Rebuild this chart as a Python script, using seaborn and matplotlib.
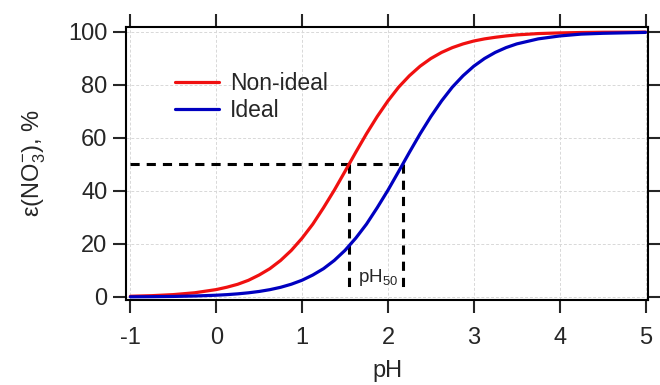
import numpy as np
import pandas as pd
import matplotlib
matplotlib.use("Agg")
import matplotlib.pyplot as plt
import seaborn as sns

# values (pH vs epsilon(NO3-), %)
ph = [-1.0, -0.75, -0.5, -0.25, 0.0, 0.125, 0.25, 0.375, 0.5, 0.625, 0.75, 0.875,
      1.0, 1.125, 1.25, 1.375, 1.5, 1.625, 1.75, 1.875, 2.0, 2.125, 2.25, 2.375,
      2.5, 2.625, 2.75, 2.875, 3.0, 3.125, 3.25, 3.375, 3.5, 3.75, 4.0, 4.25, 4.5, 5.0]
non_ideal = [0.28, 0.5, 0.9, 1.6, 2.8, 3.7, 4.8, 6.3, 8.3, 10.7, 13.8, 17.6,
             22.2, 27.5, 33.7, 40.3, 47.4, 54.6, 61.6, 68.1, 74.0, 79.2, 83.5, 87.1,
             90.0, 92.3, 94.1, 95.5, 96.6, 97.4, 98.0, 98.5, 98.9, 99.4, 99.65, 99.8, 99.9, 99.96]
ideal = [0.07, 0.12, 0.21, 0.38, 0.67, 0.89, 1.19, 1.58, 2.09, 2.77, 3.66, 4.83,
         6.33, 8.3, 10.7, 13.8, 17.6, 22.2, 27.5, 33.7, 40.3, 47.4, 54.6, 61.6,
         68.1, 74.0, 79.2, 83.5, 87.1, 90.0, 92.3, 94.1, 95.5, 97.4, 98.5, 99.2, 99.5, 99.85]

ph50 = [1.545, 2.17]
x_ticks = [-1, 0, 1, 2, 3, 4, 5]
y_ticks = [0, 20, 40, 60, 80, 100]

df = pd.concat([
    pd.DataFrame({'pH': ph, 'eps': non_ideal, 'case': 'Non-ideal'}),
    pd.DataFrame({'pH': ph, 'eps': ideal, 'case': 'Ideal'}),
])

sns.set_style("white")
plt.rcParams['font.family'] = ['Liberation Sans', 'DejaVu Sans']
plt.rcParams['mathtext.fontset'] = 'custom'
plt.rcParams['mathtext.rm'] = 'Liberation Sans'
plt.rcParams['mathtext.it'] = 'Liberation Sans:italic'

fig = plt.figure(figsize=(6.6, 3.85), dpi=100)
ax = fig.add_axes([0.191, 0.221, 0.791, 0.709])

# dashed guide lines at 50 %
ax.plot([-1, ph50[1]], [50, 50], color='black', lw=2.2, ls=(0, (3, 2.3)), zorder=3)
for p in ph50:
    ax.plot([p, p], [50, 2], color='black', lw=2.2, ls=(0, (3, 2.3)), zorder=3)

sns.lineplot(data=df, x='pH', y='eps', hue='case', palette=['#f01010', '#0000c0'],
             linewidth=2.3, ax=ax, zorder=4)

ax.text(1.65, 7.5, 'pH$_{50}$', fontsize=13.5, va='center', ha='left')

ax.set_xlim(-1.05, 5.03)
ax.set_ylim(-1.1, 101.9)
ax.set_xticks(x_ticks)
ax.set_yticks(y_ticks)
ax.set_xticklabels([str(t) for t in x_ticks])
ax.grid(True, color='#d8d8d8', lw=0.7, ls=(0, (3, 2)))
ax.tick_params(direction='out', length=9.5, width=1.5, labelsize=17,
               top=True, right=True, bottom=True, left=True, pad=4)
ax.tick_params(axis='x', pad=10)
for s in ax.spines.values():
    s.set_linewidth(1.5)
    s.set_color('black')

ax.set_xlabel('pH', fontsize=17, labelpad=8)
ax.set_ylabel('ε(NO$_3^{-}$), %', fontsize=17, labelpad=14)

ax.legend(loc='upper left', bbox_to_anchor=(0.094, 0.835), frameon=False,
          fontsize=16.5, handlelength=1.9, handletextpad=0.48, labelspacing=0.19,
          borderaxespad=0, borderpad=0)

fig.savefig('out.png', dpi=100)
